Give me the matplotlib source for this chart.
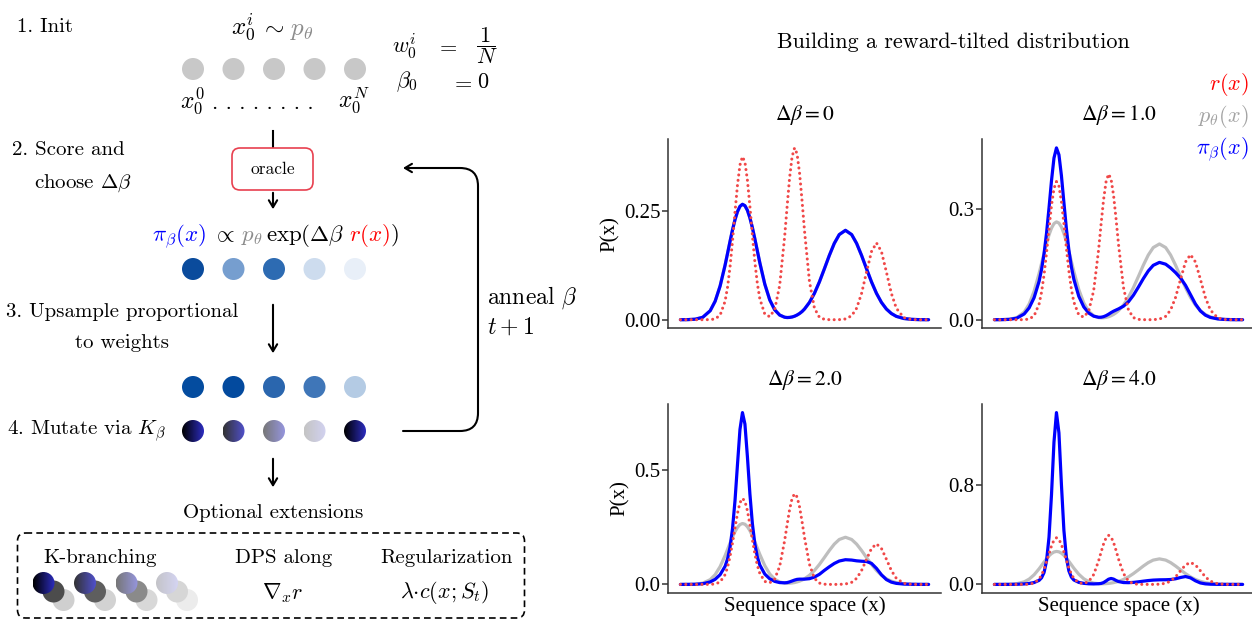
import numpy as np
import matplotlib
matplotlib.use("Agg")
import matplotlib.pyplot as plt
from matplotlib.patches import Circle, FancyBboxPatch, FancyArrowPatch
from matplotlib.path import Path
from matplotlib.colors import LinearSegmentedColormap

plt.rcParams['mathtext.fontset'] = 'cm'

# ---------------- data ----------------
x_grid = [0.00, 0.03, 0.06, 0.09, 0.12, 0.14, 0.16, 0.18, 0.19, 0.20, 0.21, 0.22, 0.23, 0.24,
          0.25, 0.26, 0.27, 0.28, 0.29, 0.30, 0.31, 0.32, 0.34, 0.36, 0.38, 0.40, 0.42, 0.43,
          0.44, 0.45, 0.46, 0.47, 0.48, 0.49, 0.50, 0.52, 0.54, 0.56, 0.58, 0.60, 0.62, 0.64,
          0.665, 0.69, 0.71, 0.73, 0.75, 0.77, 0.79, 0.81, 0.83, 0.85, 0.87, 0.90, 0.93, 0.96, 1.00]

reward = [0, 0, 0, 0, 0.0002, 0.0018, 0.0105, 0.0425, 0.0752, 0.1221, 0.1817, 0.2481, 0.3107, 0.3568,
          0.3758, 0.3631, 0.3216, 0.2613, 0.1948, 0.1331, 0.0834, 0.0481, 0.0129, 0.0070, 0.0235,
          0.0792, 0.1914, 0.2613, 0.3272, 0.3758, 0.3960, 0.3824, 0.3387, 0.2752, 0.2051, 0.0879,
          0.0266, 0.0057, 0.0009, 0.0001, 0.0000, 0.0002, 0.0017, 0.0091, 0.0264, 0.0607, 0.1100,
          0.1571, 0.1770, 0.1571, 0.1100, 0.0607, 0.0264, 0.0048, 0.0005, 0.0000, 0.0000]

p_theta = [0.0000, 0.0002, 0.0012, 0.0056, 0.0207, 0.0426, 0.0777, 0.1257, 0.1530, 0.1807, 0.2072,
           0.2306, 0.2491, 0.2613, 0.2660, 0.2628, 0.2521, 0.2347, 0.2122, 0.1862, 0.1586, 0.1311,
           0.0820, 0.0456, 0.0228, 0.0107, 0.0057, 0.0050, 0.0053, 0.0063, 0.0081, 0.0108, 0.0143,
           0.0188, 0.0246, 0.0399, 0.0608, 0.0871, 0.1172, 0.1481, 0.1759, 0.1962, 0.2060, 0.1962,
           0.1759, 0.1481, 0.1172, 0.0871, 0.0608, 0.0399, 0.0246, 0.0143, 0.0077, 0.0028, 0.0009,
           0.0002, 0.0000]

pi_beta_0 = p_theta

pi_beta_1 = [0.0000, 0.0002, 0.0009, 0.0042, 0.0156, 0.0323, 0.0600, 0.1043, 0.1366, 0.1793, 0.2351,
             0.3038, 0.3779, 0.4397, 0.4672, 0.4485, 0.3919, 0.3186, 0.2480, 0.1894, 0.1443, 0.1101,
             0.0636, 0.0349, 0.0181, 0.0096, 0.0066, 0.0068, 0.0083, 0.0111, 0.0149, 0.0193, 0.0231,
             0.0263, 0.0294, 0.0367, 0.0487, 0.0665, 0.0885, 0.1117, 0.1326, 0.1479, 0.1559, 0.1510,
             0.1407, 0.1280, 0.1132, 0.0935, 0.0683, 0.0428, 0.0238, 0.0124, 0.0062, 0.0021, 0.0006,
             0.0002, 0.0000]

pi_beta_2 = [0.0000, 0.0001, 0.0006, 0.0029, 0.0108, 0.0223, 0.0424, 0.0791, 0.1116, 0.1628, 0.2441,
             0.3662, 0.5243, 0.6768, 0.7504, 0.7002, 0.5573, 0.3955, 0.2651, 0.1762, 0.1200, 0.0846,
             0.0452, 0.0245, 0.0132, 0.0079, 0.0070, 0.0080, 0.0110, 0.0150, 0.0190, 0.0220, 0.0230,
             0.0230, 0.0230, 0.0250, 0.0320, 0.0440, 0.0612, 0.0770, 0.0915, 0.1021, 0.1079, 0.1063,
             0.1030, 0.1012, 0.1000, 0.0918, 0.0701, 0.0421, 0.0210, 0.0098, 0.0045, 0.0015, 0.0005,
             0.0001, 0.0000]

pi_beta_4 = [0.0000, 0.0000, 0.0002, 0.0010, 0.0037, 0.0077, 0.0151, 0.0326, 0.0533, 0.0960, 0.1882,
             0.3807, 0.7224, 1.1475, 1.3857, 1.2215, 0.8063, 0.4363, 0.2168, 0.1092, 0.0595, 0.0358,
             0.0163, 0.0086, 0.0050, 0.0039, 0.0056, 0.0080, 0.0150, 0.0280, 0.0420, 0.0480, 0.0430,
             0.0320, 0.0230, 0.0150, 0.0140, 0.0162, 0.0209, 0.0262, 0.0311, 0.0348, 0.0370, 0.0377,
             0.0395, 0.0453, 0.0558, 0.0634, 0.0529, 0.0290, 0.0117, 0.0044, 0.0017, 0.0005, 0.0002,
             0.0000, 0.0000]

panel_titles = [r'$\Delta\beta = 0$', r'$\Delta\beta = 1.0$', r'$\Delta\beta = 2.0$', r'$\Delta\beta = 4.0$']
panel_pis = [pi_beta_0, pi_beta_1, pi_beta_2, pi_beta_4]
ytick_values = [[0.0, 0.25], [0.0, 0.3], [0.0, 0.5], [0.0, 0.8]]
ytick_labels = [['0.00', '0.25'], ['0.0', '0.3'], ['0.0', '0.5'], ['0.0', '0.8']]

# diagram particle colours
init_colors = ['#c8c8c8'] * 5
weight_colors = ['#0a4b9c', '#769ecf', '#2d6bb2', '#cddcee', '#e8eff8']
resample_colors = ['#044c9f', '#034a9e', '#2a66ae', '#3f76b8', '#b4cbe4']
mutate_colors = [('#000000', '#2c2cbf'), ('#333333', '#5050cc'), ('#777777', '#9595dd'),
                 ('#c4c4c4', '#d2d2f0'), ('#000000', '#2c2cbf')]
branch_front = [('#000000', '#2c2cbf'), ('#333333', '#5050cc'), ('#777777', '#9595dd'), ('#c4c4c8', '#d4d4f2')]
branch_mid = ['#4c4c4c', '#5e5e5e', '#8a8a8a', '#d6d6d6']
branch_back = ['#cfcfcf', '#d2d2d2', '#d8d8d8', '#ececec']

# ---------------- figure ----------------
W, H = 1252, 620
fig = plt.figure(figsize=(W / 100, H / 100), dpi=100)
ax0 = fig.add_axes([0, 0, 1, 1])
ax0.set_xlim(0, W)
ax0.set_ylim(H, 0)
ax0.axis('off')
renderer = fig.canvas.get_renderer()

CM = 'cmr10'
FS = 15


def txt(x, y, s, ha='left', va='center', fs=FS, color='black', family=CM, **kw):
    return ax0.text(x, y, s, ha=ha, va=va, fontsize=fs, color=color, family=family, **kw)


def multicolor(xc, y, pieces, gaps, fs=FS):
    objs, widths = [], []
    for s, c in pieces:
        t = ax0.text(0, y, s, color=c, fontsize=fs, ha='left', va='baseline', family=CM)
        objs.append(t)
        widths.append(t.get_window_extent(renderer).width)
    total = sum(widths) + sum(gaps)
    x = xc - total / 2
    for i, t in enumerate(objs):
        t.set_x(x)
        x += widths[i] + (gaps[i] if i < len(gaps) else 0)


def circle(cx, cy, r, color, z=3):
    ax0.add_patch(Circle((cx, cy), r, facecolor=color, edgecolor='none', zorder=z))


def grad_circle(cx, cy, r, c0, c1, z=4):
    cmap = LinearSegmentedColormap.from_list('g', [c0, c1])
    grad = np.linspace(0, 1, 64).reshape(1, -1)
    im = ax0.imshow(grad, cmap=cmap, extent=[cx - r, cx + r, cy + r, cy - r],
                    aspect='auto', zorder=z, interpolation='bilinear')
    c = Circle((cx, cy), r, transform=ax0.transData, facecolor='none', edgecolor='none')
    ax0.add_patch(c)
    im.set_clip_path(c)


def arrow(x, y0, y1):
    ax0.add_patch(FancyArrowPatch((x, y0), (x, y1), arrowstyle='->,head_length=5,head_width=3',
                                  mutation_scale=1, lw=1.5, color='black', zorder=5))


cx_list = [193, 233.5, 274, 314.5, 355]
R = 11

# 1. Init
txt(17, 27, '1. Init')
multicolor(272, 35, [(r'$x_0^i$', 'black'), (r'$\sim$', 'black'), (r'$p_\theta$', '#8c8c8c')], [5, 5], fs=18)
for cx, c in zip(cx_list, init_colors):
    circle(cx, 69, R, c)
txt(cx_list[0] - 1, 101, r'$x_0^0$', ha='center', fs=17)
txt(263, 103, '. . . . . . . .', ha='center', fs=16)
txt(cx_list[-1] - 1, 101, r'$x_0^N$', ha='center', fs=17)
txt(405, 46, r'$w_0^i$', ha='center', fs=16)
txt(447, 46, r'$=$', ha='center', fs=16)
txt(487, 46, r'$\dfrac{1}{N}$', ha='center', fs=16)
txt(407, 82, r'$\beta_0$', ha='center', fs=16)
txt(462, 82, r'$=$', ha='center', fs=16)
txt(483, 82, r'$0$', ha='center', fs=16)

ax0.plot([273, 273], [131, 148], color='black', lw=1.5)

# 2. Score
txt(12, 150, '2. Score and')
txt(34, 183, r'choose $\Delta\beta$')
ax0.add_patch(FancyBboxPatch((232, 148), 81, 42, boxstyle='round,pad=0,rounding_size=8',
                             facecolor='white', edgecolor='#e8404f', lw=1.2, zorder=4))
txt(272.5, 169, 'oracle', ha='center', fs=12.5, zorder=5)
arrow(273, 190, 212)
multicolor(275, 241, [(r'$\pi_\beta(x)$', 'blue'), (r'$\propto$', 'black'), (r'$p_\theta$', '#8c8c8c'),
                      (r'$\exp(\Delta\beta$', 'black'), (r'$r(x)$', 'red'), (r'$)$', 'black')],
           [6, 6, 4, 4, 0], fs=16.5)
for cx, c in zip(cx_list, weight_colors):
    circle(cx, 269, R, c)

# 3. Upsample
txt(122, 312, '3. Upsample proportional', ha='center')
txt(122, 343, 'to weights', ha='center')
arrow(273, 302, 356)
for cx, c in zip(cx_list, resample_colors):
    circle(cx, 387, R, c)

# 4. Mutate
txt(7, 431, r'4. Mutate via $K_\beta$')
for cx, (c0, c1) in zip(cx_list, mutate_colors):
    grad_circle(cx, 431, R, c0, c1)

# loop back
rr = 18
verts = [(403, 431), (478 - rr, 431), (478, 431), (478, 431 - rr), (478, 168 + rr), (478, 168),
         (478 - rr, 168), (403, 168)]
codes = [Path.MOVETO, Path.LINETO, Path.CURVE3, Path.CURVE3, Path.LINETO, Path.CURVE3, Path.CURVE3, Path.LINETO]
ax0.add_patch(FancyArrowPatch(path=Path(verts, codes), arrowstyle='->,head_length=5,head_width=3',
                              mutation_scale=1, lw=1.5, color='black', zorder=5))
txt(487, 298, r'anneal $\beta$', fs=17)
txt(487, 328, r'$t+1$', fs=17)

# optional
arrow(273, 456, 490)
txt(273, 513, 'Optional extensions', ha='center')
ax0.add_patch(FancyBboxPatch((17.5, 533), 507, 85, boxstyle='round,pad=0,rounding_size=8',
                             facecolor='none', edgecolor='black', lw=1.2, ls=(0, (4, 2.5)), zorder=2))
txt(100, 558, 'K-branching', ha='center')
txt(284, 558, 'DPS along', ha='center')
txt(283, 593, r'$\nabla_x r$', ha='center', fs=16)
txt(446, 558, 'Regularization', ha='center')
txt(445, 593, r'$\lambda{\cdot}c(x;S_t)$', ha='center', fs=16)
for gx, (c0, c1), cm_, cb in zip([43.5, 85, 126.5, 167], branch_front, branch_mid, branch_back):
    circle(gx + 20, 600, R, cb, z=3)
    circle(gx + 10, 591.5, R, cm_, z=3.5)
    grad_circle(gx, 583, R, c0, c1, z=4)

ax0.set_xlim(0, W)
ax0.set_ylim(H, 0)

# ---------------- right: charts ----------------
txt(953, 42, 'Building a reward-tilted distribution', ha='center', fs=15.9)
txt(1249, 85, r'$r(x)$', ha='right', color='red', fs=16)
txt(1249, 116, r'$p_\theta(x)$', ha='right', color='#a3a3a3', fs=16)
txt(1249, 150, r'$\pi_\beta(x)$', ha='right', color='blue', fs=16)

TIMES = 'Liberation Serif'
col_left = [668, 982]
row_top = [139.3, 404]
AW, AH = 273, 189

for i in range(4):
    row, col = divmod(i, 2)
    l, t = col_left[col], row_top[row]
    ax = fig.add_axes([l / W, 1 - (t + AH) / H, AW / W, AH / H])
    ax.patch.set_alpha(0)
    ax.plot(x_grid, p_theta, color='#bebebe', lw=2.3, zorder=2, solid_capstyle='round')
    ax.plot(x_grid, panel_pis[i], color='#0000ff', lw=2.3, zorder=3, solid_capstyle='round')
    ax.plot(x_grid, reward, color='#f04848', lw=2.2, ls=(0, (0.01, 1.75)), dash_capstyle='round', zorder=4)
    ymax = max(max(panel_pis[i]), max(reward), max(p_theta))
    ax.set_xlim(-0.05, 1.05)
    ax.set_ylim(-0.05 * ymax, 1.05 * ymax)
    ax.set_xticks([])
    ax.set_yticks(ytick_values[i])
    ax.set_yticklabels(ytick_labels[i], family=TIMES, fontsize=15, color='black')
    ax.tick_params(axis='y', length=4, width=1.1, color='#333333', pad=1.5)
    for s in ['top', 'right']:
        ax.spines[s].set_visible(False)
    for s in ['left', 'bottom']:
        ax.spines[s].set_color('#333333')
        ax.spines[s].set_linewidth(1.1)
    ax.set_title(panel_titles[i], fontsize=15.5, math_fontfamily='stix', pad=14)
    if col == 0:
        ax.set_ylabel('P(x)', family=TIMES, fontsize=15, labelpad=3)
    if row == 1:
        ax.set_xlabel('Sequence space (x)', family=TIMES, fontsize=15, labelpad=2)

fig.savefig('out.png', dpi=100, facecolor='white')
